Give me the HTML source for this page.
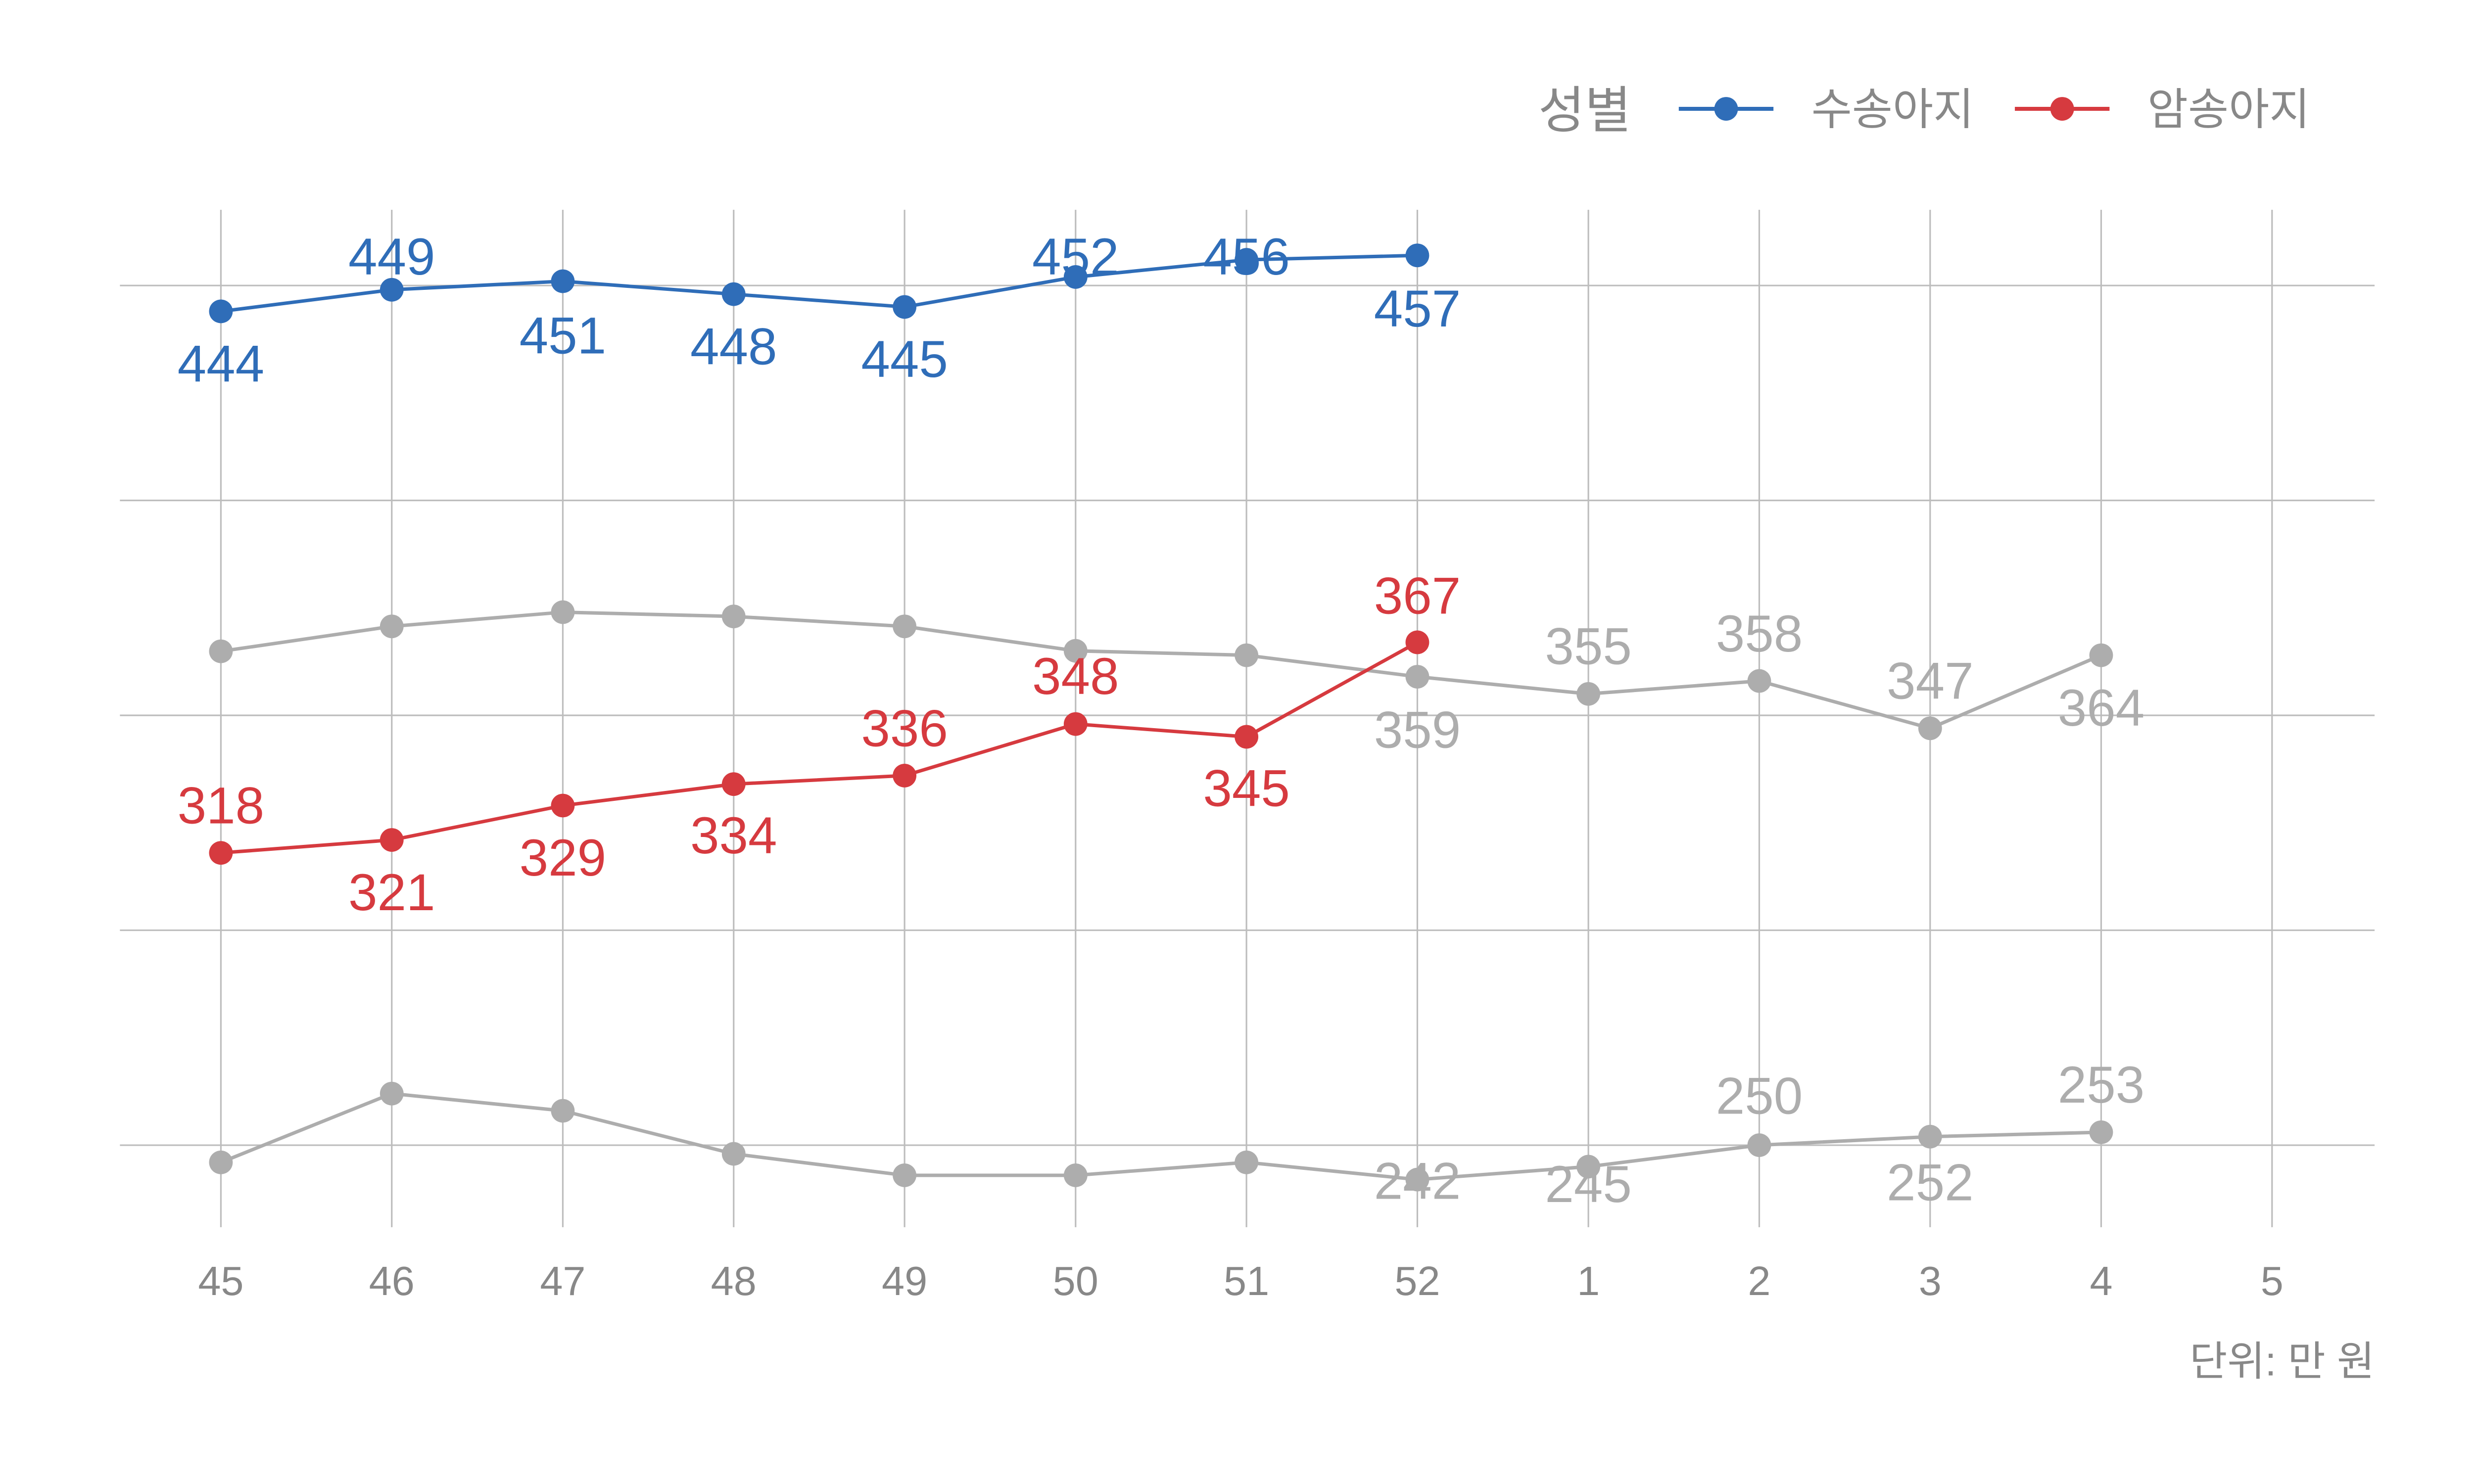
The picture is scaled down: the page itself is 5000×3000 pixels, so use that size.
<!DOCTYPE html>
<html><head><meta charset="utf-8"><style>html,body{margin:0;padding:0;background:#fff}svg{display:block}</style></head>
<body>
<svg width="5000" height="3000" viewBox="0 0 1568 940.8" xmlns="http://www.w3.org/2000/svg" font-family="'Liberation Sans','Noto Sans CJK KR',sans-serif">
<rect width="1568" height="941" fill="#fff"/>
<g stroke="#bdbdbd" stroke-width="1">
<line x1="76" x2="1505" y1="181" y2="181"/><line x1="76" x2="1505" y1="317.25" y2="317.25"/><line x1="76" x2="1505" y1="453.5" y2="453.5"/><line x1="76" x2="1505" y1="589.75" y2="589.75"/><line x1="76" x2="1505" y1="726" y2="726"/>
<line x1="140" x2="140" y1="133" y2="778"/><line x1="248.3" x2="248.3" y1="133" y2="778"/><line x1="356.7" x2="356.7" y1="133" y2="778"/><line x1="465" x2="465" y1="133" y2="778"/><line x1="573.3" x2="573.3" y1="133" y2="778"/><line x1="681.7" x2="681.7" y1="133" y2="778"/><line x1="790" x2="790" y1="133" y2="778"/><line x1="898.3" x2="898.3" y1="133" y2="778"/><line x1="1006.7" x2="1006.7" y1="133" y2="778"/><line x1="1115" x2="1115" y1="133" y2="778"/><line x1="1223.3" x2="1223.3" y1="133" y2="778"/><line x1="1331.7" x2="1331.7" y1="133" y2="778"/><line x1="1440" x2="1440" y1="133" y2="778"/>
</g>
<g fill="none" stroke-width="2.2" stroke-linejoin="round">
<polyline stroke="#adadad" points="140,412.9 248.3,397.1 356.7,388.1 465,390.8 573.3,397.1 681.7,412.6 790,415.4 898.3,429 1006.7,439.9 1115,431.7 1223.3,461.7 1331.7,415.4"/>
<polyline stroke="#adadad" points="140,736.9 248.3,693.3 356.7,704.2 465,731.5 573.3,745.1 681.7,745.1 790,736.9 898.3,747.8 1006.7,739.6 1115,726 1223.3,720.6 1331.7,717.8"/>
<polyline stroke="#d63a3f" points="140,540.7 248.3,532.5 356.7,510.7 465,497.1 573.3,491.7 681.7,459 790,467.1 898.3,407.2"/>
<polyline stroke="#2f6db8" points="140,197.4 248.3,183.7 356.7,178.3 465,186.5 573.3,194.6 681.7,175.6 790,164.7 898.3,161.9"/>
</g>
<g fill="#adadad">
<circle cx="140" cy="412.9" r="7.5"/><circle cx="248.3" cy="397.1" r="7.5"/><circle cx="356.7" cy="388.1" r="7.5"/><circle cx="465" cy="390.8" r="7.5"/><circle cx="573.3" cy="397.1" r="7.5"/><circle cx="681.7" cy="412.6" r="7.5"/><circle cx="790" cy="415.4" r="7.5"/><circle cx="898.3" cy="429" r="7.5"/><circle cx="1006.7" cy="439.9" r="7.5"/><circle cx="1115" cy="431.7" r="7.5"/><circle cx="1223.3" cy="461.7" r="7.5"/><circle cx="1331.7" cy="415.4" r="7.5"/>
<circle cx="140" cy="736.9" r="7.5"/><circle cx="248.3" cy="693.3" r="7.5"/><circle cx="356.7" cy="704.2" r="7.5"/><circle cx="465" cy="731.5" r="7.5"/><circle cx="573.3" cy="745.1" r="7.5"/><circle cx="681.7" cy="745.1" r="7.5"/><circle cx="790" cy="736.9" r="7.5"/><circle cx="898.3" cy="747.8" r="7.5"/><circle cx="1006.7" cy="739.6" r="7.5"/><circle cx="1115" cy="726" r="7.5"/><circle cx="1223.3" cy="720.6" r="7.5"/><circle cx="1331.7" cy="717.8" r="7.5"/>
</g>
<g fill="#d63a3f">
<circle cx="140" cy="540.7" r="7.5"/><circle cx="248.3" cy="532.5" r="7.5"/><circle cx="356.7" cy="510.7" r="7.5"/><circle cx="465" cy="497.1" r="7.5"/><circle cx="573.3" cy="491.7" r="7.5"/><circle cx="681.7" cy="459" r="7.5"/><circle cx="790" cy="467.1" r="7.5"/><circle cx="898.3" cy="407.2" r="7.5"/>
</g>
<g fill="#2f6db8">
<circle cx="140" cy="197.4" r="7.5"/><circle cx="248.3" cy="183.7" r="7.5"/><circle cx="356.7" cy="178.3" r="7.5"/><circle cx="465" cy="186.5" r="7.5"/><circle cx="573.3" cy="194.6" r="7.5"/><circle cx="681.7" cy="175.6" r="7.5"/><circle cx="790" cy="164.7" r="7.5"/><circle cx="898.3" cy="161.9" r="7.5"/>
</g>
<g font-size="33" text-anchor="middle" fill="#adadad">
<text x="898.3" y="474">359</text><text x="1006.7" y="421">355</text><text x="1115" y="413">358</text><text x="1223.3" y="443">347</text><text x="1331.7" y="460">364</text>
<text x="898.3" y="760">242</text><text x="1006.7" y="762">245</text><text x="1115" y="706">250</text><text x="1223.3" y="761">252</text><text x="1331.7" y="699">253</text>
</g>
<g font-size="33" text-anchor="middle" fill="#d63a3f">
<text x="140" y="522">318</text><text x="248.3" y="577">321</text><text x="356.7" y="555">329</text><text x="465" y="541">334</text><text x="573.3" y="473">336</text><text x="681.7" y="440">348</text><text x="790" y="511">345</text><text x="898.3" y="389">367</text>
</g>
<g font-size="33" text-anchor="middle" fill="#2f6db8">
<text x="140" y="242">444</text><text x="248.3" y="174">449</text><text x="356.7" y="224">451</text><text x="465" y="231">448</text><text x="573.3" y="239">445</text><text x="681.7" y="174">452</text><text x="790" y="174">456</text><text x="898.3" y="207">457</text>
</g>
<g font-size="26" text-anchor="middle" fill="#888">
<text x="140" y="821">45</text><text x="248.3" y="821">46</text><text x="356.7" y="821">47</text><text x="465" y="821">48</text><text x="573.3" y="821">49</text><text x="681.7" y="821">50</text><text x="790" y="821">51</text><text x="898.3" y="821">52</text><text x="1006.7" y="821">1</text><text x="1115" y="821">2</text><text x="1223.3" y="821">3</text><text x="1331.7" y="821">4</text><text x="1440" y="821">5</text>
</g>
<text x="1505" y="872" font-size="26" text-anchor="end" fill="#888">단위: 만 원</text>
<text x="975" y="81" font-size="32" fill="#888">성별</text>
<line x1="1064" x2="1124" y1="69" y2="69" stroke="#2f6db8" stroke-width="2.5"/><circle cx="1094" cy="69" r="7.5" fill="#2f6db8"/>
<text x="1148" y="79" font-size="28" fill="#888">수송아지</text>
<line x1="1277" x2="1337" y1="69" y2="69" stroke="#d63a3f" stroke-width="2.5"/><circle cx="1307" cy="69" r="7.5" fill="#d63a3f"/>
<text x="1361" y="79" font-size="28" fill="#888">암송아지</text>
</svg>
</body></html>
